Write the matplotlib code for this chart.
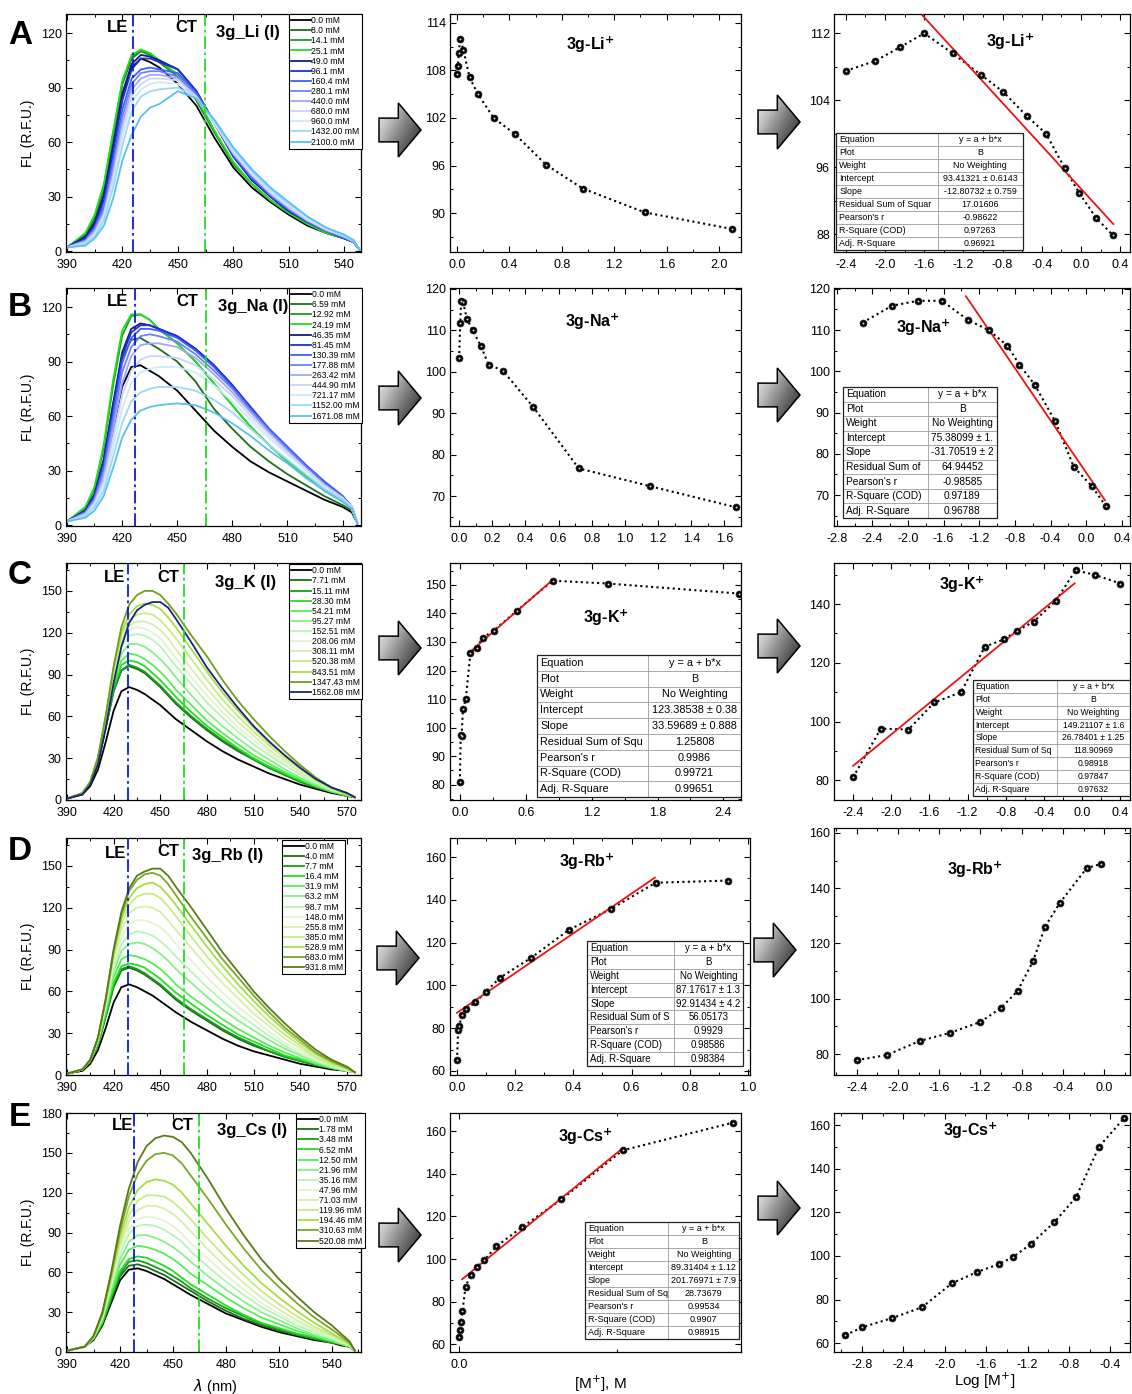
import numpy as np
import matplotlib
matplotlib.use('Agg')
import matplotlib.pyplot as plt
from matplotlib.ticker import MultipleLocator, AutoMinorLocator
from matplotlib.patches import Polygon, Rectangle

plt.rcParams['font.family'] = ['Liberation Sans', 'DejaVu Sans']
plt.rcParams['font.size'] = 9
plt.rcParams['axes.linewidth'] = 0.9
plt.rcParams['axes.unicode_minus'] = False
for a in ('x', 'y'):
    plt.rcParams[f'{a}tick.direction'] = 'in'
    plt.rcParams[f'{a}tick.major.size'] = 4
    plt.rcParams[f'{a}tick.minor.size'] = 2.2
    plt.rcParams[f'{a}tick.major.width'] = 0.8
    plt.rcParams[f'{a}tick.minor.width'] = 0.7
    plt.rcParams[f'{a}tick.labelsize'] = 9
plt.rcParams['xtick.top'] = True
plt.rcParams['ytick.right'] = True

W, H = 1132, 1394

# ---------------- spectra data ----------------
WL_AB = [390, 400, 405, 410, 415, 420, 425, 430, 435, 440, 450, 460, 470, 480, 490, 500, 510, 520, 530, 540, 545, 548]
WL_CD = [390, 400, 405, 410, 415, 420, 425, 430, 435, 440, 445, 450, 455, 460, 470, 480, 490, 500, 510, 520, 530, 540, 550, 560, 570, 575]
WL_E = [390, 400, 405, 410, 415, 420, 425, 430, 435, 440, 445, 450, 455, 460, 470, 480, 490, 500, 510, 520, 530, 540, 545, 550, 553]

LI_LABELS = ['0.0 mM', '8.0 mM', '14.1 mM', '25.1 mM', '49.0 mM', '96.1 mM', '160.4 mM', '280.1 mM',
             '440.0 mM', '680.0 mM', '960.0 mM', '1432.00 mM', '2100.0 mM']
LI_SPEC = [
    [2, 7, 15, 31, 58, 86, 101, 106, 104, 101, 92, 80, 62, 46, 35, 27, 20, 14, 10, 7, 5, 1],
    [2, 9, 18, 35, 64, 92, 106, 110, 108, 104, 96, 83, 65, 48, 37, 28, 21, 15, 10, 7, 5, 1],
    [2, 9, 19, 36, 65, 93, 107, 110, 108, 104, 96, 83, 65, 48, 37, 28, 21, 15, 10, 7, 5, 1],
    [2, 10, 20, 37, 66, 94, 108, 111, 109, 105, 97, 85, 66, 49, 37, 28, 21, 15, 10, 7, 5, 1],
    [2, 8, 16, 31, 58, 87, 103, 108, 107, 105, 100, 88, 70, 52, 39, 30, 22, 16, 11, 7, 5, 1],
    [2, 7, 14, 28, 54, 83, 100, 106, 106, 104, 100, 88, 70, 52, 40, 30, 22, 16, 11, 7, 5, 1],
    [2, 6, 13, 25, 50, 78, 95, 100, 101, 100, 98, 87, 70, 53, 40, 31, 23, 16, 11, 7, 5, 1],
    [2, 6, 12, 23, 47, 74, 92, 98, 99, 99, 96, 86, 70, 53, 41, 31, 23, 17, 11, 8, 5, 1],
    [2, 5, 11, 21, 43, 70, 89, 95, 97, 97, 95, 85, 70, 54, 42, 32, 24, 17, 12, 8, 5, 1],
    [2, 5, 10, 20, 41, 67, 86, 92, 95, 95, 94, 85, 70, 54, 42, 32, 24, 17, 12, 8, 6, 1],
    [2, 4, 9, 19, 38, 63, 82, 89, 92, 93, 92, 84, 70, 55, 43, 33, 25, 18, 12, 8, 6, 1],
    [2, 4, 8, 17, 35, 58, 77, 85, 88, 89, 90, 84, 71, 56, 44, 34, 26, 19, 13, 8, 6, 1],
    [2, 3, 7, 14, 29, 50, 64, 74, 79, 81, 88, 84, 72, 57, 45, 35, 27, 19, 13, 9, 6, 1],
]
NA_LABELS = ['0.0 mM', '6.59 mM', '12.92 mM', '24.19 mM', '46.35 mM', '81.45 mM', '130.39 mM', '177.88 mM',
             '263.42 mM', '444.90 mM', '721.17 mM', '1152.00 mM', '1671.08 mM']
NA_SPEC = [
    [2, 6, 13, 28, 52, 76, 87, 88, 85, 82, 74, 63, 52, 43, 35, 29, 24, 19, 14, 10, 7, 1],
    [2, 8, 17, 36, 66, 92, 102, 103, 100, 97, 90, 79, 64, 53, 43, 35, 28, 22, 16, 11, 8, 1],
    [2, 9, 20, 42, 76, 104, 115, 116, 113, 108, 100, 90, 78, 66, 54, 44, 35, 27, 19, 13, 9, 1],
    [2, 10, 21, 44, 79, 107, 116, 116, 113, 108, 100, 90, 78, 66, 54, 44, 35, 27, 19, 13, 9, 1],
    [2, 8, 17, 36, 66, 95, 108, 111, 110, 108, 104, 97, 88, 77, 64, 52, 42, 32, 23, 15, 10, 1],
    [2, 8, 16, 34, 63, 93, 106, 110, 110, 108, 104, 97, 88, 77, 65, 53, 43, 33, 24, 16, 10, 1],
    [2, 7, 15, 32, 60, 89, 103, 108, 108, 107, 103, 96, 87, 76, 64, 53, 43, 33, 24, 16, 10, 1],
    [2, 7, 14, 29, 56, 84, 98, 104, 105, 104, 101, 94, 85, 75, 63, 52, 42, 32, 23, 15, 10, 1],
    [2, 6, 13, 27, 52, 78, 93, 99, 100, 100, 98, 92, 83, 73, 62, 51, 41, 31, 22, 15, 10, 1],
    [2, 6, 12, 24, 47, 71, 85, 91, 93, 93, 92, 88, 80, 71, 60, 50, 40, 31, 22, 15, 10, 1],
    [2, 5, 11, 22, 42, 64, 78, 84, 86, 87, 87, 84, 77, 68, 58, 48, 39, 30, 21, 14, 9, 1],
    [2, 5, 10, 19, 37, 56, 68, 73, 75, 76, 76, 74, 69, 62, 53, 44, 36, 28, 20, 14, 9, 1],
    [2, 4, 8, 16, 31, 48, 58, 63, 65, 66, 67, 66, 62, 56, 49, 41, 34, 26, 19, 13, 9, 1],
]
K_LABELS = ['0.0 mM', '7.71 mM', '15.11 mM', '28.30 mM', '54.21 mM', '95.27 mM', '152.51 mM', '208.06 mM',
            '308.11 mM', '520.38 mM', '843.51 mM', '1347.43 mM', '1562.08 mM']
K_SPEC = [
    [1, 4, 10, 22, 42, 64, 78, 81, 79, 76, 72, 68, 63, 58, 50, 42, 35, 29, 24, 19, 15, 11, 8, 5, 3, 2],
    [1, 5, 12, 27, 52, 78, 93, 96, 94, 91, 86, 81, 75, 69, 59, 50, 42, 35, 29, 23, 18, 13, 9, 6, 3, 2],
    [1, 5, 12, 27, 52, 78, 93, 97, 95, 92, 87, 82, 76, 70, 60, 51, 43, 36, 29, 23, 18, 13, 9, 6, 3, 2],
    [1, 5, 13, 28, 54, 81, 97, 100, 99, 96, 91, 86, 80, 74, 63, 53, 45, 37, 30, 24, 19, 14, 10, 6, 3, 2],
    [1, 5, 13, 29, 56, 84, 100, 105, 104, 101, 97, 92, 86, 79, 68, 57, 48, 40, 32, 26, 20, 15, 10, 6, 4, 2],
    [1, 5, 13, 30, 58, 87, 105, 112, 112, 110, 106, 101, 95, 88, 75, 63, 53, 44, 36, 29, 22, 16, 11, 7, 4, 2],
    [1, 5, 13, 30, 59, 90, 110, 118, 119, 118, 115, 110, 103, 96, 83, 70, 59, 49, 40, 32, 25, 18, 12, 7, 4, 2],
    [1, 5, 13, 30, 59, 91, 113, 122, 124, 123, 120, 116, 109, 102, 88, 75, 63, 52, 43, 34, 26, 19, 13, 8, 4, 2],
    [1, 5, 13, 30, 59, 92, 115, 125, 128, 128, 126, 122, 116, 108, 94, 80, 67, 56, 46, 36, 28, 20, 13, 8, 4, 2],
    [1, 5, 13, 30, 60, 93, 118, 129, 133, 134, 133, 129, 123, 116, 101, 86, 72, 60, 49, 39, 30, 22, 14, 8, 4, 2],
    [1, 5, 13, 30, 60, 94, 120, 133, 139, 141, 140, 137, 131, 124, 108, 92, 77, 64, 52, 41, 32, 23, 15, 9, 4, 2],
    [1, 5, 13, 31, 61, 96, 124, 140, 147, 150, 150, 147, 141, 134, 118, 103, 86, 71, 58, 46, 35, 25, 16, 9, 5, 2],
    [1, 4, 11, 26, 52, 84, 110, 127, 136, 140, 142, 142, 138, 130, 113, 95, 80, 66, 53, 42, 32, 23, 15, 9, 5, 2],
]
RB_LABELS = ['0.0 mM', '4.0 mM', '7.7 mM', '16.4 mM', '31.9 mM', '63.2 mM', '98.7 mM', '148.0 mM',
             '255.8 mM', '385.0 mM', '528.9 mM', '683.0 mM', '931.8 mM']
RB_SPEC = [
    [1, 3, 8, 18, 34, 52, 63, 65, 63, 60, 57, 53, 49, 45, 38, 32, 26, 21, 17, 14, 11, 8, 6, 4, 3, 2],
    [1, 4, 10, 22, 42, 63, 75, 77, 75, 72, 68, 64, 59, 54, 46, 39, 32, 26, 21, 17, 13, 10, 7, 5, 3, 2],
    [1, 4, 10, 22, 42, 64, 76, 78, 76, 73, 69, 65, 60, 55, 47, 40, 33, 27, 22, 17, 13, 10, 7, 5, 3, 2],
    [1, 4, 10, 23, 44, 66, 78, 80, 79, 77, 73, 69, 64, 59, 51, 43, 36, 29, 24, 19, 14, 11, 8, 5, 3, 2],
    [1, 4, 11, 24, 46, 70, 83, 86, 85, 83, 80, 76, 71, 65, 56, 48, 40, 33, 27, 21, 16, 12, 8, 5, 3, 2],
    [1, 4, 11, 25, 48, 74, 89, 94, 95, 94, 91, 87, 82, 76, 66, 56, 47, 39, 32, 25, 19, 14, 9, 6, 3, 2],
    [1, 4, 11, 25, 50, 77, 94, 101, 103, 102, 100, 96, 91, 85, 74, 63, 53, 44, 36, 28, 21, 15, 10, 6, 3, 2],
    [1, 4, 11, 26, 51, 80, 99, 108, 111, 111, 109, 106, 101, 94, 82, 70, 59, 49, 40, 31, 23, 17, 11, 7, 4, 2],
    [1, 4, 11, 26, 52, 83, 104, 116, 120, 121, 120, 117, 111, 104, 91, 78, 66, 55, 44, 35, 26, 19, 12, 7, 4, 2],
    [1, 4, 11, 26, 53, 85, 108, 122, 128, 130, 130, 127, 121, 114, 99, 85, 72, 60, 49, 38, 29, 21, 13, 8, 4, 2],
    [1, 4, 11, 27, 54, 87, 112, 127, 134, 137, 138, 135, 129, 122, 107, 92, 78, 65, 53, 42, 32, 23, 15, 9, 5, 2],
    [1, 4, 11, 27, 55, 89, 115, 132, 140, 144, 145, 143, 137, 129, 113, 98, 83, 70, 57, 45, 34, 25, 16, 10, 5, 2],
    [1, 4, 11, 27, 55, 90, 117, 134, 143, 146, 148, 148, 143, 135, 120, 104, 88, 74, 60, 48, 37, 27, 18, 11, 6, 2],
]
CS_LABELS = ['0.0 mM', '1.78 mM', '3.48 mM', '6.52 mM', '12.50 mM', '21.96 mM', '35.16 mM', '47.96 mM',
             '71.03 mM', '119.96 mM', '194.46 mM', '310.63 mM', '520.08 mM']
CS_SPEC = [
    [1, 4, 9, 20, 37, 54, 62, 63, 61, 58, 55, 51, 47, 43, 36, 29, 24, 19, 15, 12, 9, 7, 5, 4, 1],
    [1, 4, 10, 21, 39, 57, 65, 66, 64, 61, 58, 54, 50, 46, 38, 31, 25, 20, 16, 13, 10, 7, 6, 4, 1],
    [1, 4, 10, 22, 41, 59, 68, 69, 67, 64, 61, 57, 53, 48, 40, 33, 27, 21, 17, 13, 10, 7, 6, 4, 1],
    [1, 4, 10, 22, 42, 61, 70, 72, 71, 68, 65, 61, 56, 51, 43, 35, 28, 22, 18, 14, 11, 8, 6, 4, 1],
    [1, 4, 11, 24, 45, 66, 77, 80, 79, 77, 74, 70, 65, 59, 50, 41, 33, 26, 21, 16, 12, 8, 6, 4, 1],
    [1, 4, 11, 25, 48, 70, 83, 88, 88, 86, 83, 79, 74, 68, 57, 47, 38, 30, 24, 18, 13, 9, 7, 5, 1],
    [1, 4, 11, 26, 50, 74, 89, 95, 96, 95, 92, 88, 83, 76, 64, 53, 43, 34, 27, 20, 15, 10, 7, 5, 1],
    [1, 4, 11, 26, 51, 77, 93, 100, 102, 101, 99, 95, 89, 82, 70, 58, 47, 37, 29, 22, 16, 11, 8, 5, 1],
    [1, 4, 11, 27, 53, 80, 98, 107, 110, 110, 108, 104, 98, 91, 77, 64, 52, 41, 32, 24, 17, 12, 8, 5, 1],
    [1, 4, 11, 27, 54, 83, 103, 114, 118, 118, 117, 113, 107, 100, 85, 71, 58, 46, 36, 27, 19, 13, 9, 6, 1],
    [1, 4, 12, 28, 56, 87, 109, 122, 128, 130, 129, 126, 120, 112, 96, 80, 65, 52, 41, 31, 22, 14, 10, 6, 1],
    [1, 4, 12, 29, 58, 91, 117, 134, 144, 149, 150, 148, 142, 133, 115, 96, 78, 62, 49, 37, 26, 17, 12, 7, 1],
    [1, 4, 12, 30, 60, 95, 123, 143, 155, 161, 163, 162, 158, 150, 130, 108, 88, 70, 55, 42, 30, 20, 14, 8, 1],
]

BLUE_SET = ['#000000', '#1d6e1d', '#1f9c1f', '#22dd22', '#0d1f80', '#1f2fd2', '#3f5fff', '#6f80ff',
            '#a0a8f6', '#cdd3f6', '#cde9f8', '#9ed9f6', '#5cbff2']
GREEN_SET = ['#000000', '#1a6e1a', '#139e13', '#22dd22', '#55ee55', '#88f088', '#b8f4b8', '#e2f4d2',
             '#d6efaa', '#c6ec84', '#a6de44', '#6f9e20', '#1a237e']
GREEN_SET2 = ['#000000', '#1a6e1a', '#139e13', '#22dd22', '#55ee55', '#88f088', '#b8f4b8', '#e2f4d2',
              '#d6efaa', '#c6ec84', '#a6de44', '#7aa828', '#5a7a1a']

# ---------------- binding data ----------------
LI_X = [0, 0.008, 0.0141, 0.0251, 0.049, 0.0961, 0.1604, 0.2801, 0.44, 0.68, 0.96, 1.432, 2.1]
LI_Y = [107.5, 108.6, 110.2, 112.0, 110.6, 107.1, 105.0, 102.0, 100.0, 96.1, 93.1, 90.1, 88.0]
LI_LOGX = [-2.4, -2.097, -1.85, -1.6, -1.31, -1.017, -0.795, -0.553, -0.357, -0.167, -0.018, 0.156, 0.322]
LI_LOGY = [107.5, 108.7, 110.3, 112.0, 109.6, 107.0, 105.0, 102.1, 100.0, 95.9, 92.9, 89.9, 87.9]

NA_X = [0, 0.00659, 0.01292, 0.02419, 0.04635, 0.08145, 0.13039, 0.17788, 0.26342, 0.4449, 0.72117, 1.152, 1.67108]
NA_Y = [103.2, 111.8, 117.1, 116.8, 112.8, 110.0, 106.3, 101.7, 100.3, 91.6, 76.7, 72.4, 67.3]
NA_LOGX = [-2.51, -2.18, -1.89, -1.62, -1.33, -1.09, -0.885, -0.75, -0.58, -0.35, -0.14, 0.06, 0.22]
NA_LOGY = [111.8, 115.9, 117.1, 117.1, 112.5, 109.9, 106.2, 101.6, 96.8, 87.9, 76.8, 72.2, 67.3]

K_X = [0, 0.00771, 0.01511, 0.0283, 0.05421, 0.09527, 0.15251, 0.20806, 0.30811, 0.52038, 0.84351, 1.34743, 2.54]
K_Y = [81.0, 97.5, 97.0, 106.5, 110.0, 126.0, 128.0, 131.5, 134.0, 141.0, 151.5, 150.5, 147.0]
K_LOGX = [-2.4, -2.11, -1.82, -1.55, -1.27, -1.02, -0.82, -0.68, -0.51, -0.28, -0.07, 0.13, 0.40]
K_LOGY = [81.0, 97.6, 97.3, 106.5, 110.0, 125.5, 128.0, 131.0, 134.0, 141.0, 151.5, 150.0, 147.0]

RB_X = [0, 0.004, 0.0077, 0.0164, 0.0319, 0.0632, 0.0987, 0.148, 0.2558, 0.385, 0.5289, 0.683, 0.9318]
RB_Y = [65.0, 79.0, 81.0, 86.0, 89.0, 92.0, 97.0, 103.6, 113.0, 126.0, 135.7, 148.0, 149.0]
RB_LOGX = [-2.4, -2.11, -1.79, -1.50, -1.20, -1.00, -0.84, -0.69, -0.575, -0.43, -0.17, -0.03]
RB_LOGY = [77.8, 79.6, 84.7, 87.6, 91.6, 96.7, 102.8, 113.6, 126.0, 134.7, 147.3, 148.8]

CS_X = [0, 0.00178, 0.00348, 0.00652, 0.0125, 0.02196, 0.03516, 0.04796, 0.07103, 0.11996, 0.19446, 0.31063, 0.52008]
CS_Y = [63.5, 66.5, 70.5, 75.5, 87.0, 92.5, 96.5, 99.5, 106.0, 115.0, 128.0, 151.0, 164.0]
CS_LOGX = [-2.96, -2.8, -2.51, -2.22, -1.93, -1.69, -1.48, -1.34, -1.17, -0.94, -0.73, -0.51, -0.27]
CS_LOGY = [63.7, 67.3, 71.5, 76.5, 87.5, 92.6, 96.2, 99.5, 105.4, 115.5, 127.0, 150.0, 163.0]

TABLE_KEYS = ['Equation', 'Plot', 'Weight', 'Intercept', 'Slope', 'Residual Sum of Squar',
              "Pearson's r", 'R-Square (COD)', 'Adj. R-Square']
RSS_LI, RSS_NA, RSS_K2, RSS_K3, RSS_RB, RSS_CS = ('Residual Sum of Squar', 'Residual Sum of', 'Residual Sum of Squ',
                                                  'Residual Sum of Sq', 'Residual Sum of S', 'Residual Sum of Sq')
TAB_LI = ['y = a + b*x', 'B', 'No Weighting', '93.41321 ± 0.6143', '-12.80732 ± 0.759', '17.01606',
          '-0.98622', '0.97263', '0.96921']
TAB_NA = ['y = a + b*x', 'B', 'No Weighting', '75.38099 ± 1.', '-31.70519 ± 2', '64.94452',
          '-0.98585', '0.97189', '0.96788']
TAB_K2 = ['y = a + b*x', 'B', 'No Weighting', '123.38538 ± 0.38', '33.59689 ± 0.888', '1.25808',
          '0.9986', '0.99721', '0.99651']
TAB_K3 = ['y = a + b*x', 'B', 'No Weighting', '149.21107 ± 1.6', '26.78401 ± 1.25', '118.90969',
          '0.98918', '0.97847', '0.97632']
TAB_RB = ['y = a + b*x', 'B', 'No Weighting', '87.17617 ± 1.3', '92.91434 ± 4.2', '56.05173',
          '0.9929', '0.98586', '0.98384']
TAB_CS = ['y = a + b*x', 'B', 'No Weighting', '89.31404 ± 1.12', '201.76971 ± 7.9', '28.73679',
          '0.99534', '0.9907', '0.98915']

# fit coefficients (intercept, slope) and drawn range
FIT_LI3 = (93.41321, -12.80732, -1.62, 0.33)
FIT_NA3 = (75.38099, -31.70519, -1.35, 0.21)
FIT_K2 = (123.38538, 33.59689, 0.09, 0.84)
FIT_K3 = (149.21107, 26.78401, -2.4, -0.08)
FIT_RB2 = (87.17617, 92.91434, 0.0, 0.68)
FIT_CS2 = (89.31404, 201.76971, 0.006, 0.31)

fig = plt.figure(figsize=(W / 100, H / 100), dpi=100)

COLS = [(66, 361), (450, 741), (834, 1130)]
ROWS = [(14, 252), (288, 526), (563, 800), (838, 1075), (1113, 1352)]


def add_ax(col, row, right=None, top=None):
    l, r = COLS[col]
    t, b = ROWS[row]
    if right is not None:
        r = right
    if top is not None:
        t = top
    return fig.add_axes([l / W, 1 - b / H, (r - l) / W, (b - t) / H])


def ftext(x, y, s, **kw):
    fig.text(x / W, 1 - y / H, s, **kw)


def style(ax, xlim, ylim, xstep, ystep, xminor=2, yminor=2):
    ax.set_xlim(*xlim)
    ax.set_ylim(*ylim)
    ax.xaxis.set_major_locator(MultipleLocator(xstep))
    ax.yaxis.set_major_locator(MultipleLocator(ystep))
    ax.xaxis.set_minor_locator(AutoMinorLocator(xminor))
    ax.yaxis.set_minor_locator(AutoMinorLocator(yminor))
    ax.tick_params(which='both', top=True, right=True, labeltop=False, labelright=False)
    ax.tick_params(axis='x', pad=5)
    ax.tick_params(axis='y', pad=3)


def spectra(row, wl, spec, labels, colors, xlim, ylim, xstep, ystep, le, ct, legbox):
    ax = add_ax(0, row)
    for y, c, lab in zip(spec, colors, labels):
        ax.plot(wl, y, color=c, lw=1.3, label=lab)
    ax.axvline(le, color='#0a1adc', lw=1.3, ls=(0, (7, 2, 1.5, 2)))
    ax.axvline(ct, color='#22dd22', lw=1.3, ls=(0, (7, 2, 1.5, 2)))
    style(ax, xlim, ylim, xstep, ystep)
    leg = ax.legend(loc='upper right', bbox_to_anchor=legbox, fontsize=6.2, frameon=True, fancybox=False,
                    edgecolor='black', framealpha=1, handlelength=2.3, handletextpad=0.1,
                    labelspacing=0.13, borderpad=0.25, borderaxespad=0)
    leg.get_frame().set_linewidth(0.8)
    for ln in leg.get_lines():
        ln.set_linewidth(1.3)
    return ax


def table(ax, vals, rss, bbox, split, fs):
    keys = list(TABLE_KEYS)
    keys[5] = rss
    l, b, w, h = bbox
    n = len(keys)
    rh = h / n
    tr = ax.transAxes
    ax.add_patch(Rectangle((l, b), w, h, transform=tr, fc='white', ec='none', zorder=5))
    for i, (k, v) in enumerate(zip(keys, vals)):
        yc = b + h - (i + 0.5) * rh
        ax.text(l + 0.01, yc, k, transform=tr, fontsize=fs, ha='left', va='center', zorder=7)
        ax.text(l + w * split + w * (1 - split) / 2, yc, v, transform=tr, fontsize=fs, ha='center',
                va='center', zorder=7)
        if i > 0:
            ax.plot([l, l + w], [b + h - i * rh] * 2, transform=tr, color='#9a9a9a', lw=0.6, zorder=6)
    ax.plot([l + w * split] * 2, [b, b + h], transform=tr, color='#9a9a9a', lw=0.6, zorder=6)
    ax.add_patch(Rectangle((l, b), w, h, transform=tr, fc='none', ec='#222222', lw=0.9, zorder=8))


def bind(col, row, x, y, xlim, ylim, xstep, ystep, fit=None, right=None, top=None):
    ax = add_ax(col, row, right, top)
    ax.plot(x, y, color='black', lw=1.5, ls=(0, (1, 1.6)), zorder=2)
    if fit is not None:
        a, bb, x0, x1 = fit
        ax.plot([x0, x1], [a + bb * x0, a + bb * x1], color='#ee1111', lw=1.3, zorder=3)
    ax.plot(x, y, 'o', ms=5, mfc='black', mec='#222222', mew=0.5, zorder=4)
    ax.plot(x, y, 'o', ms=1.4, mfc='#dddddd', mec='none', zorder=4.5)
    style(ax, xlim, ylim, xstep, ystep)
    return ax


def arrow(cx, cy, w=42, h=54):
    ax = fig.add_axes([(cx - w / 2 - 3) / W, 1 - (cy + h / 2 + 3) / H, (w + 6) / W, (h + 6) / H])
    ax.set_xlim(-w / 2 - 3, w / 2 + 3)
    ax.set_ylim(-h / 2 - 3, h / 2 + 3)
    ax.axis('off')
    pts = np.array([[-w / 2, -0.22 * h], [-0.04 * w, -0.22 * h], [-0.04 * w, -h / 2], [w / 2, 0],
                    [-0.04 * w, h / 2], [-0.04 * w, 0.22 * h], [-w / 2, 0.22 * h]])
    poly = Polygon(pts, closed=True, fc='none', ec='black', lw=1.1, zorder=3)
    ax.add_patch(poly)
    gx, gy = np.meshgrid(np.linspace(0, 1, 60), np.linspace(0, 1, 60))
    grad = 0.15 + 0.5 * gx + 0.35 * (1 - gy)
    im = ax.imshow(grad, cmap='Greys', extent=[-w / 2, w / 2, -h / 2, h / 2], origin='lower',
                   vmin=0.0, vmax=1.05, zorder=2, aspect='auto')
    im.set_clip_path(poly)


# ---------------- column 1: spectra ----------------
spectra(0, WL_AB, LI_SPEC, LI_LABELS, BLUE_SET, (389.5, 549), (-0.5, 130.5), 30, 30, 425.7, 464.7, (1.003, 1.0))
spectra(1, WL_AB, NA_SPEC, NA_LABELS, BLUE_SET, (389.5, 550), (-0.5, 130.5), 30, 30, 427.0, 465.5, (1.003, 1.0))
spectra(2, WL_CD, K_SPEC, K_LABELS, GREEN_SET, (389.4, 579), (0, 170), 30, 30, 429.0, 465.0, (1.003, 0.995))
spectra(3, WL_CD, RB_SPEC, RB_LABELS, GREEN_SET2, (389.4, 579), (0, 170), 30, 30, 429.0, 465.0, (0.947, 0.993))
spectra(4, WL_E, CS_SPEC, CS_LABELS, GREEN_SET2, (389.4, 556.5), (0, 180), 30, 30, 428.0, 465.0, (1.012, 1.0))

for t, b in ROWS:
    ftext(28, (t + b) / 2, 'FL (R.F.U.)', rotation=90, ha='center', va='center', fontsize=10)

col1_txt = [((118, 28), (186, 28), (248, 32), '3g_Li (I)'),
            ((118, 302), (187, 302), (253, 307), '3g_Na (I)'),
            ((115, 578), (168, 577), (246, 582), '3g_K (I)'),
            ((116, 853), (168, 852), (228, 856), '3g_Rb (I)'),
            ((123, 1125), (182, 1125), (252, 1131), '3g_Cs (I)')]
for le_p, ct_p, t_p, name in col1_txt:
    ftext(*le_p, 'LE', ha='center', va='center', fontsize=12, fontweight='bold')
    ftext(*ct_p, 'CT', ha='center', va='center', fontsize=12, fontweight='bold')
    ftext(*t_p, name, ha='center', va='center', fontsize=12, fontweight='bold')

for lab, y in zip('ABCDE', [35, 308, 575, 852, 1118]):
    ftext(20, y, lab, ha='center', va='center', fontsize=24, fontweight='bold')

# ---------------- column 2 ----------------
bind(1, 0, LI_X, LI_Y, (-0.053, 2.168), (85.1, 115.1), 0.4, 6)
bind(1, 1, NA_X, NA_Y, (-0.055, 1.70), (62.8, 120.2), 0.2, 10)
ax = bind(1, 2, K_X, K_Y, (-0.09, 2.56), (74.6, 157.7), 0.6, 10, FIT_K2)
table(ax, TAB_K2, RSS_K2, (0.30, 0.012, 0.70, 0.60), 0.545, 7.8)
ax = bind(1, 3, RB_X, RB_Y, (-0.024, 1.007), (58.1, 168.9), 0.2, 20, FIT_RB2, right=750)
table(ax, TAB_RB, RSS_RB, (0.457, 0.038, 0.52, 0.527), 0.555, 6.9)
ax = bind(1, 4, CS_X, CS_Y, (-0.017, 0.535), (56.4, 168.5), 0.6, 20, FIT_CS2)
table(ax, TAB_CS, RSS_CS, (0.464, 0.054, 0.53, 0.49), 0.54, 6.5)

# ---------------- column 3 ----------------
ax = bind(2, 0, LI_LOGX, LI_LOGY, (-2.52, 0.50), (85.85, 114.3), 0.4, 8, FIT_LI3)
table(ax, TAB_LI, RSS_LI, (0.007, 0.008, 0.63, 0.49), 0.545, 6.4)
ax = bind(2, 1, NA_LOGX, NA_LOGY, (-2.83, 0.49), (62.5, 120.2), 0.4, 10, FIT_NA3)
table(ax, TAB_NA, RSS_NA, (0.03, 0.034, 0.52, 0.55), 0.55, 7.3)
ax = bind(2, 2, K_LOGX, K_LOGY, (-2.60, 0.50), (73.3, 154), 0.4, 20, FIT_K3)
table(ax, TAB_K3, RSS_K3, (0.468, 0.017, 0.532, 0.49), 0.535, 6.2)
bind(2, 3, RB_LOGX, RB_LOGY, (-2.62, 0.25), (72.4, 161.8), 0.4, 20, top=828)
bind(2, 4, CS_LOGX, CS_LOGY, (-3.07, -0.21), (56.0, 165.5), 0.4, 20)

bind_titles = [((590, 45), (1010, 42), 'Li'), ((592, 322), (923, 328), 'Na'), ((606, 618), (962, 585), 'K'),
               ((587, 862), (975, 870), 'Rb'), ((585, 1137), (970, 1131), 'Cs')]
for p2, p3, ion in bind_titles:
    for p in (p2, p3):
        ftext(*p, '3g-' + ion + r'$^{\mathbf{+}}$', ha='center', va='center', fontsize=11.5, fontweight='bold')

# ---------------- arrows ----------------
for cx, cy in [(400, 130), (779, 122), (400, 398), (779, 395), (400, 648), (779, 646),
               (398, 958), (775, 950), (400, 1235), (779, 1208)]:
    arrow(cx, cy)

# ---------------- bottom labels ----------------
ftext(215, 1387, r'$\lambda$ (nm)', ha='center', va='center', fontsize=10.5)
ftext(600, 1384, r'[M$^{+}$], M', ha='center', va='center', fontsize=11)
ftext(985, 1381, r'Log [M$^{+}$]', ha='center', va='center', fontsize=11)

fig.savefig('out.png', dpi=100)
